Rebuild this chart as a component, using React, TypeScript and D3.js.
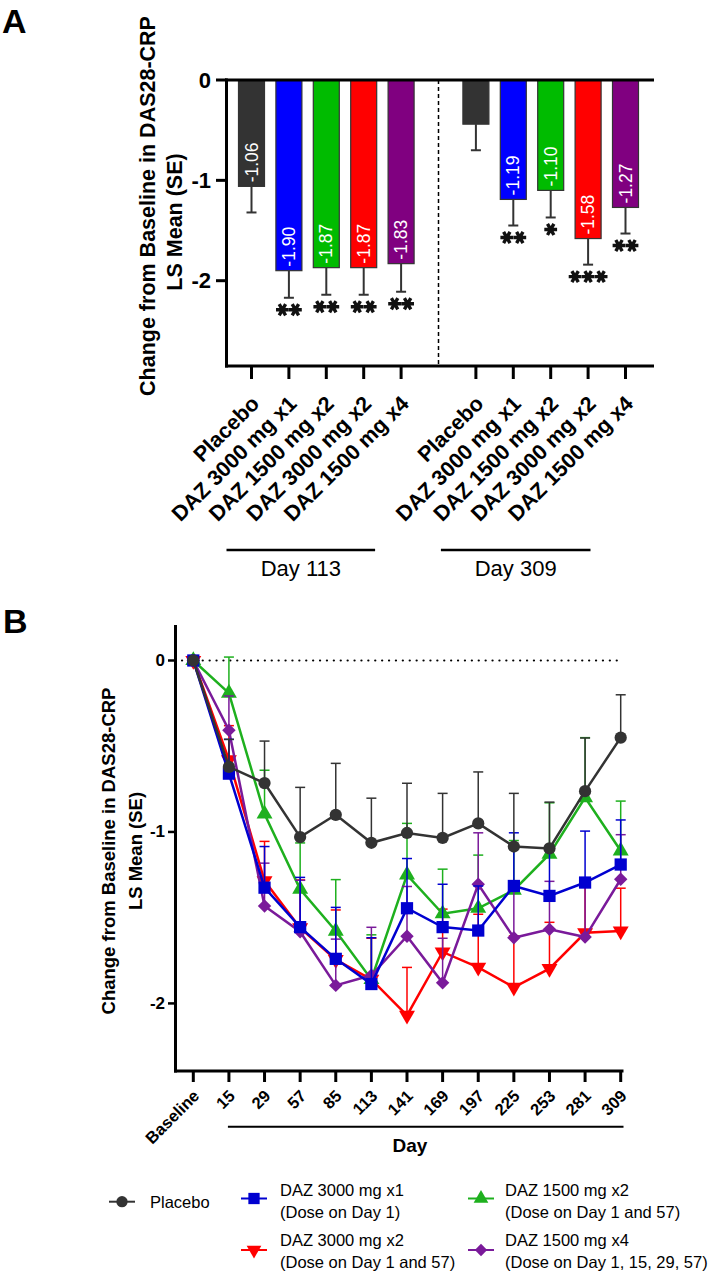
import React from "react";
import * as d3 from "d3";

const FONT = "'Liberation Sans', Arial, Helvetica, sans-serif";

// ---------- Panel A data ----------
const barGroups = ["Day 113", "Day 309"];
const barTreatments = ["Placebo", "DAZ 3000 mg x1", "DAZ 1500 mg x2", "DAZ 3000 mg x2", "DAZ 1500 mg x4"];
const day113Means = [-1.06, -1.9, -1.87, -1.87, -1.83];
const day113SE = [0.26, 0.27, 0.27, 0.27, 0.28];
const day113Sig = ["", "**", "**", "**", "**"];
const day309Means = [-0.44, -1.19, -1.1, -1.58, -1.27];
const day309SE = [0.26, 0.26, 0.27, 0.26, 0.26];
const day309Sig = ["", "**", "*", "***", "**"];
const yTicksA = [0, -1, -2];

// ---------- Panel B data ----------
const visits = ["Baseline", "15", "29", "57", "85", "113", "141", "169", "197", "225", "253", "281", "309"];
const placeboMean = [0, -0.62, -0.715, -1.03, -0.9, -1.063, -1.006, -1.035, -0.95, -1.085, -1.096, -0.762, -0.45];
const placeboSE = [0, 0.16, 0.245, 0.29, 0.3, 0.26, 0.29, 0.26, 0.3, 0.31, 0.27, 0.31, 0.25];
const daz3000x1Mean = [0, -0.66, -1.325, -1.555, -1.74, -1.887, -1.445, -1.555, -1.575, -1.315, -1.373, -1.295, -1.19];
const daz3000x1SE = [0, 0.2, 0.24, 0.29, 0.3, 0.27, 0.29, 0.25, 0.26, 0.31, 0.28, 0.3, 0.26];
const daz1500x2Mean = [0, -0.19, -0.895, -1.334, -1.578, -1.86, -1.25, -1.477, -1.445, -1.34, -1.13, -0.8, -1.11];
const daz1500x2SE = [0, 0.21, 0.255, 0.27, 0.3, 0.26, 0.3, 0.26, 0.31, 0.29, 0.3, 0.35, 0.29];
const daz3000x2Mean = [0, -0.58, -1.285, -1.56, -1.745, -1.86, -2.07, -1.7, -1.79, -1.906, -1.797, -1.588, -1.578];
const daz3000x2SE = [0, 0.2, 0.23, 0.28, 0.29, 0.24, 0.28, 0.25, 0.31, 0.3, 0.27, 0.27, 0.25];
const daz1500x4Mean = [0, -0.407, -1.432, -1.582, -1.895, -1.836, -1.608, -1.88, -1.305, -1.617, -1.568, -1.613, -1.276];
const daz1500x4SE = [0, 0.2, 0.25, 0.3, 0.27, 0.28, 0.29, 0.26, 0.3, 0.29, 0.28, 0.29, 0.26];
const yTicksB = [0, -1, -2];

const legendLine1 = ["Placebo", "DAZ 3000 mg x1", "DAZ 1500 mg x2", "DAZ 3000 mg x2", "DAZ 1500 mg x4"];
const legendLine2 = ["", "(Dose on Day 1)", "(Dose on Day 1 and 57)", "(Dose on Day 1 and 57)", "(Dose on Day 1, 15, 29, 57)"];

const barColors = ["#333333", "#0000FF", "#00BB00", "#FF0000", "#800080"];
const lineColors = ["#333333", "#0000D0", "#1EB01E", "#FF0000", "#7A1A9A"];

type Shape = "circle" | "square" | "triangle" | "tridown" | "diamond";
const shapes: Shape[] = ["circle", "square", "triangle", "tridown", "diamond"];

function symbolPath(shape: Shape, scale = 1) {
  if (shape === "circle") return d3.symbol().type(d3.symbolCircle).size(118 * scale)()!;
  if (shape === "square") return d3.symbol().type(d3.symbolSquare).size(150 * scale)()!;
  if (shape === "triangle" || shape === "tridown") return d3.symbol().type(d3.symbolTriangle).size(110 * scale)()!;
  return d3.symbol().type(d3.symbolSquare).size(90 * scale)()!;
}
function symbolRotate(shape: Shape) {
  if (shape === "tridown") return 180;
  if (shape === "diamond") return 45;
  return 0;
}

const asteriskPath = d3.symbol().type(d3.symbolAsterisk).size(115)()!;

export default function App() {
  // ---------- Panel A ----------
  const yA = d3.scaleLinear().domain([-2.85, 0]).range([366, 80]);
  const xA = d3.scalePoint<number>().domain(d3.range(11)).range([251.5, 625.5]);
  const barW = 26;
  const groupsData = [
    { means: day113Means, se: day113SE, sig: day113Sig, offset: 0 },
    { means: day309Means, se: day309SE, sig: day309Sig, offset: 6 },
  ];
  const bars = groupsData.flatMap((g, gi) =>
    g.means.map((m, i) => ({
      key: `${gi}-${i}`,
      slot: i + g.offset,
      mean: m,
      se: g.se[i],
      sig: g.sig[i],
      color: barColors[i],
      label: barTreatments[i],
    }))
  );
  const groupLines = [
    { x1: xA(0)! - 25, x2: xA(4)! - 26, label: barGroups[0] },
    { x1: xA(6)! - 35, x2: xA(10)! - 35, label: barGroups[1] },
  ];

  // ---------- Panel B ----------
  const yB = d3.scaleLinear().domain([-2.4, 0.2]).range([1072, 626.2]);
  const xB = d3.scalePoint<string>().domain(visits).range([193.3, 620.7]);
  const seriesB = [
    { name: legendLine1[0], mean: placeboMean, se: placeboSE, idx: 0 },
    { name: legendLine1[1], mean: daz3000x1Mean, se: daz3000x1SE, idx: 1 },
    { name: legendLine1[2], mean: daz1500x2Mean, se: daz1500x2SE, idx: 2 },
    { name: legendLine1[3], mean: daz3000x2Mean, se: daz3000x2SE, idx: 3 },
    { name: legendLine1[4], mean: daz1500x4Mean, se: daz1500x4SE, idx: 4 },
  ];
  const drawOrder = [3, 2, 4, 1, 0];
  const line = d3
    .line<number>()
    .x((_, i) => xB(visits[i])!)
    .y((d) => yB(d));

  const legendPos = [
    { mx: 122, my: 1201.7, tx: 150, ty: 1201.7 },
    { mx: 254, my: 1198.5, tx: 280, ty: 1190 },
    { mx: 481, my: 1198.5, tx: 505, ty: 1190 },
    { mx: 254, my: 1250, tx: 280, ty: 1240 },
    { mx: 481, my: 1250, tx: 505, ty: 1240 },
  ];

  return (
    <svg
      width={720}
      height={1272}
      viewBox="0 0 720 1272"
      style={{ position: "absolute", left: 0, top: 0, background: "#fff" }}
      fontFamily={FONT}
    >
      <rect x={0} y={0} width={720} height={1272} fill="#fff" />
      {/* ================= Panel A ================= */}
      <text x={2} y={33} fontSize={34} fontWeight="bold">A</text>
      <text
        transform={`translate(148,206) rotate(-90)`}
        textAnchor="middle"
        dominantBaseline="central"
        fontSize={21.5}
        fontWeight="bold"
      >
        Change from Baseline in DAS28-CRP
      </text>
      <text
        transform={`translate(175,222) rotate(-90)`}
        textAnchor="middle"
        dominantBaseline="central"
        fontSize={21.5}
        fontWeight="bold"
      >
        LS Mean (SE)
      </text>

      {/* bars */}
      {bars.map((b) => {
        const cx = xA(b.slot)!;
        return (
          <g key={b.key}>
            <line x1={cx} x2={cx} y1={yA(b.mean)} y2={yA(b.mean - b.se)} stroke="#333" strokeWidth={2} />
            <line x1={cx - 5} x2={cx + 5} y1={yA(b.mean - b.se)} y2={yA(b.mean - b.se)} stroke="#333" strokeWidth={2} />
            <rect
              x={cx - barW / 2}
              y={yA(0)}
              width={barW}
              height={yA(b.mean) - yA(0)}
              fill={b.color}
              stroke="#333"
              strokeWidth={1.2}
            />
            {Math.abs(b.mean) >= 1 && (
              <text
                transform={`translate(${cx},${yA(b.mean) - 4}) rotate(-90)`}
                textAnchor="start"
                dominantBaseline="central"
                fontSize={17.5}
                fill="#fff"
              >
                {b.mean.toFixed(2)}
              </text>
            )}
            {b.sig.split("").map((_, si, arr) => (
              <path
                key={si}
                d={asteriskPath}
                transform={`translate(${cx + (si - (arr.length - 1) / 2) * 13},${yA(b.mean - b.se) + 12}) rotate(90)`}
                stroke="#111"
                strokeWidth={3.4}
                fill="none"
              />
            ))}
          </g>
        );
      })}

      {/* axes A */}
      <line x1={226.5} x2={226.5} y1={78.5} y2={367.5} stroke="#000" strokeWidth={3} />
      <line x1={225} x2={654} y1={yA(0)} y2={yA(0)} stroke="#000" strokeWidth={3} />
      <line x1={225} x2={654} y1={366} y2={366} stroke="#000" strokeWidth={3} />
      {yTicksA.map((t) => (
        <g key={t}>
          <line x1={216} x2={226.5} y1={yA(t)} y2={yA(t)} stroke="#000" strokeWidth={3} />
          <text x={211} y={yA(t)} textAnchor="end" dominantBaseline="central" fontSize={22} fontWeight="bold">
            {t === 0 ? "0" : String(t)}
          </text>
        </g>
      ))}
      <line
        x1={xA(5)!}
        x2={xA(5)!}
        y1={yA(0)}
        y2={366}
        stroke="#000"
        strokeWidth={1.5}
        strokeDasharray="4,3"
      />
      {bars.map((b) => {
        const cx = xA(b.slot)!;
        return (
          <g key={"t" + b.key}>
            <line x1={cx} x2={cx} y1={366} y2={379} stroke="#000" strokeWidth={3} />
            <text
              transform={`translate(${cx + 9},${405}) rotate(-45)`}
              textAnchor="end"
              fontSize={21.5}
              fontWeight="bold"
            >
              {b.label}
            </text>
          </g>
        );
      })}
      {groupLines.map((g) => (
        <g key={g.label}>
          <line x1={g.x1} x2={g.x2} y1={550} y2={550} stroke="#000" strokeWidth={2.5} />
          <text x={(g.x1 + g.x2) / 2} y={576} textAnchor="middle" fontSize={22}>
            {g.label}
          </text>
        </g>
      ))}

      {/* ================= Panel B ================= */}
      <text x={3} y={633} fontSize={34} fontWeight="bold">B</text>
      <text
        transform={`translate(108,851) rotate(-90)`}
        textAnchor="middle"
        dominantBaseline="central"
        fontSize={18.5}
        fontWeight="bold"
      >
        Change from Baseline in DAS28-CRP
      </text>
      <text
        transform={`translate(135,851) rotate(-90)`}
        textAnchor="middle"
        dominantBaseline="central"
        fontSize={18.5}
        fontWeight="bold"
      >
        LS Mean (SE)
      </text>

      <line
        x1={182}
        x2={620}
        y1={yB(0)}
        y2={yB(0)}
        stroke="#000"
        strokeWidth={2.2}
        strokeDasharray="0.1,6.8"
        strokeLinecap="round"
      />

      {drawOrder.map((si) => {
        const s = seriesB[si];
        const col = lineColors[s.idx];
        return (
          <g key={s.name}>
            {s.mean.map((m, i) =>
              s.se[i] > 0 ? (
                <g key={i}>
                  <line
                    x1={xB(visits[i])!}
                    x2={xB(visits[i])!}
                    y1={yB(m)}
                    y2={yB(m + s.se[i])}
                    stroke={col}
                    strokeWidth={1.5}
                  />
                  <line
                    x1={xB(visits[i])! - 5}
                    x2={xB(visits[i])! + 5}
                    y1={yB(m + s.se[i])}
                    y2={yB(m + s.se[i])}
                    stroke={col}
                    strokeWidth={1.5}
                  />
                </g>
              ) : null
            )}
            <path d={line(s.mean)!} fill="none" stroke={col} strokeWidth={2.5} />
            {s.mean.map((m, i) => (
              <path
                key={"m" + i}
                d={symbolPath(shapes[s.idx])}
                transform={`translate(${xB(visits[i])},${yB(m)}) rotate(${symbolRotate(shapes[s.idx])})`}
                fill={col}
              />
            ))}
          </g>
        );
      })}

      {/* axes B */}
      <line x1={175.5} x2={175.5} y1={625} y2={1072.5} stroke="#000" strokeWidth={3} />
      <line x1={174} x2={623.5} y1={1071} y2={1071} stroke="#000" strokeWidth={3} />
      {yTicksB.map((t) => (
        <g key={t}>
          <line x1={168} x2={175.5} y1={yB(t)} y2={yB(t)} stroke="#000" strokeWidth={2.5} />
          <text x={165} y={yB(t)} textAnchor="end" dominantBaseline="central" fontSize={17} fontWeight="bold">
            {String(t)}
          </text>
        </g>
      ))}
      {visits.map((v) => (
        <g key={v}>
          <line x1={xB(v)} x2={xB(v)} y1={1071} y2={1082} stroke="#000" strokeWidth={3} />
          <text
            transform={`translate(${xB(v)! + 7},${1097}) rotate(-45)`}
            textAnchor="end"
            fontSize={16.5}
            fontWeight="bold"
          >
            {v}
          </text>
        </g>
      ))}
      <line x1={xB(visits[1])! - 1} x2={623.5} y1={1126.7} y2={1126.7} stroke="#000" strokeWidth={2} />
      <text x={410} y={1152} textAnchor="middle" fontSize={19} fontWeight="bold">
        Day
      </text>

      {/* legend */}
      {legendPos.map((p, i) => (
        <g key={"lg" + i}>
          <line x1={p.mx - 13} x2={p.mx + 13} y1={p.my} y2={p.my} stroke={lineColors[i]} strokeWidth={2} />
          <path
            d={symbolPath(shapes[i], 0.85)}
            transform={`translate(${p.mx},${p.my}) rotate(${symbolRotate(shapes[i])})`}
            fill={lineColors[i]}
          />
          <text x={p.tx} y={p.ty} dominantBaseline="central" fontSize={16.5}>
            {legendLine1[i]}
          </text>
          {legendLine2[i] && (
            <text x={p.tx} y={p.ty + 21.7} dominantBaseline="central" fontSize={16.5}>
              {legendLine2[i]}
            </text>
          )}
        </g>
      ))}
    </svg>
  );
}
